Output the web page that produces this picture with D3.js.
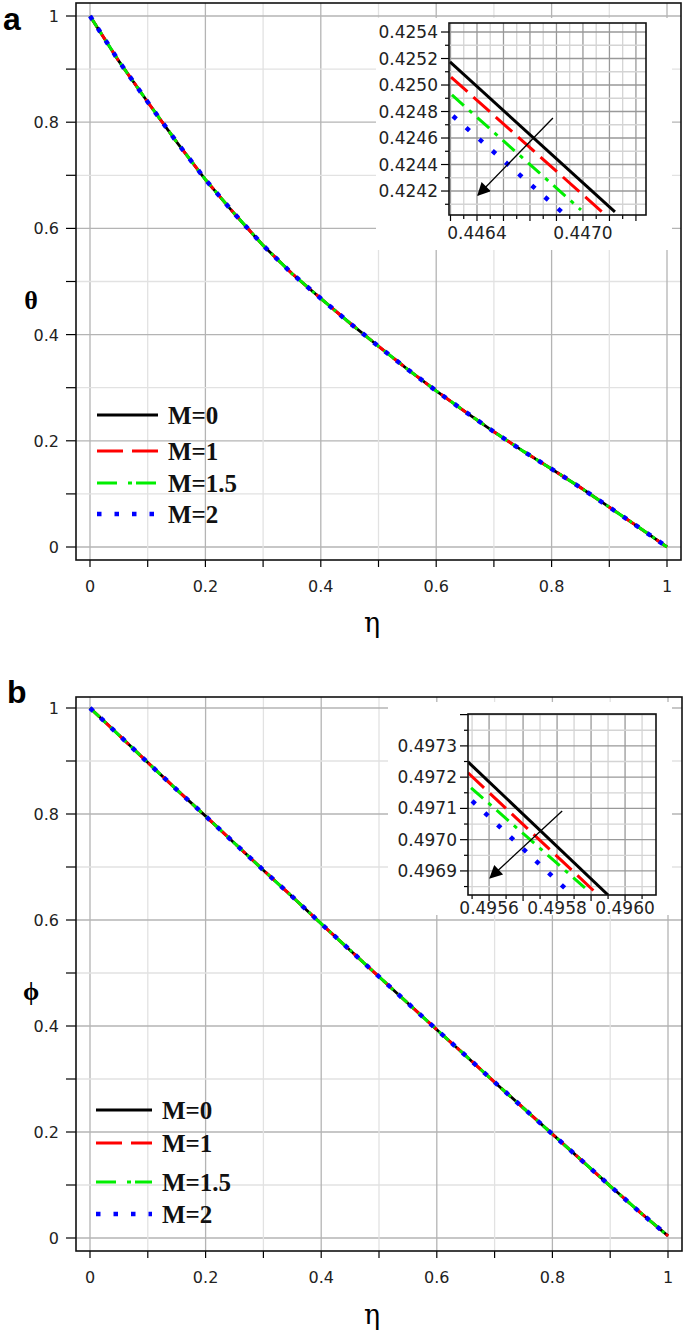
<!DOCTYPE html>
<html><head><meta charset="utf-8">
<script src="https://cdn.jsdelivr.net/npm/d3@7"></script>
<style>body{margin:0;background:#fff}</style>
</head><body>
<svg id="c" width="685" height="1336" xmlns="http://www.w3.org/2000/svg"></svg>
<script>
// ---------------- DATA ----------------
const eta = [0,0.05,0.1,0.15,0.2,0.25,0.3,0.35,0.4,0.45,0.5,0.55,0.6,0.65,0.7,0.75,0.8,0.85,0.9,0.95,1];
const thetaM0  = [1.000,0.915,0.838,0.763,0.692,0.628,0.568,0.515,0.468,0.422,0.378,0.335,0.294,0.255,0.217,0.181,0.147,0.112,0.075,0.038,0.000];
const thetaM1  = [1.000,0.915,0.838,0.763,0.692,0.628,0.568,0.515,0.468,0.422,0.378,0.335,0.294,0.255,0.217,0.181,0.147,0.112,0.075,0.038,0.000];
const thetaM15 = [1.000,0.915,0.838,0.763,0.692,0.628,0.568,0.515,0.468,0.422,0.378,0.335,0.294,0.255,0.217,0.181,0.147,0.112,0.075,0.038,0.000];
const thetaM2  = [1.000,0.915,0.838,0.763,0.692,0.628,0.568,0.515,0.468,0.422,0.378,0.335,0.294,0.255,0.217,0.181,0.147,0.112,0.075,0.038,0.000];
const phiM0  = [1.000,0.949,0.897,0.846,0.796,0.745,0.694,0.644,0.593,0.543,0.493,0.443,0.393,0.344,0.294,0.245,0.196,0.147,0.098,0.050,0.004];
const phiM1  = [1.000,0.949,0.897,0.846,0.796,0.745,0.694,0.644,0.593,0.543,0.493,0.443,0.393,0.344,0.294,0.245,0.196,0.147,0.098,0.050,0.004];
const phiM15 = [1.000,0.949,0.897,0.846,0.796,0.745,0.694,0.644,0.593,0.543,0.493,0.443,0.393,0.344,0.294,0.245,0.196,0.147,0.098,0.050,0.004];
const phiM2  = [1.000,0.949,0.897,0.846,0.796,0.745,0.694,0.644,0.593,0.543,0.493,0.443,0.393,0.344,0.294,0.245,0.196,0.147,0.098,0.050,0.004];

const seriesNames = ["M=0","M=1","M=1.5","M=2"];
const mainTickVals = [0,0.2,0.4,0.6,0.8,1];
const mainTickText = ["0","0.2","0.4","0.6","0.8","1"];

// inset (a): zoomed theta near eta ~ 0.4466  [start, end] per series
const insetAEta = { "M=0":[0.446247,0.447181], "M=1":[0.446253,0.447108], "M=1.5":[0.446258,0.446989], "M=2":[0.446264,0.446887] };
const insetATheta = { "M=0":[0.425174,0.424042], "M=1":[0.425060,0.424042], "M=1.5":[0.424925,0.424057], "M=2":[0.424766,0.424034] };
const insetAXTicks = [0.4464,0.4470];
const insetAXText = ["0.4464","0.4470"];
const insetAYTicks = [0.4254,0.4252,0.4250,0.4248,0.4246,0.4244,0.4242];
const insetAYText = ["0.4254","0.4252","0.4250","0.4248","0.4246","0.4244","0.4242"];
const insetAArrow = [[0.44683,0.424751],[0.446406,0.424170]];

// inset (b): zoomed phi near eta ~ 0.4957
const insetBEta = { "M=0":[0.495538,0.495950], "M=1":[0.495538,0.495921], "M=1.5":[0.495547,0.495882], "M=2":[0.495550,0.495829] };
const insetBPhi = { "M=0":[0.497249,0.496823], "M=1":[0.497214,0.496823], "M=1.5":[0.497166,0.496846], "M=2":[0.497124,0.496839] };
const insetBXTicks = [0.4956,0.4958,0.4960];
const insetBXText = ["0.4956","0.4958","0.4960"];
const insetBYTicks = [0.4973,0.4972,0.4971,0.4970,0.4969];
const insetBYText = ["0.4973","0.4972","0.4971","0.4970","0.4969"];
const insetBArrow = [[0.495815,0.497092],[0.495603,0.496878]];

// ---------------- STYLE ----------------
const styles = {
  "M=0":  {color:"#000000", dash:null, width:2.8},
  "M=1":  {color:"#ff0000", dash:"13,7", width:3},
  "M=1.5":{color:"#00ee00", dash:"13,6,3,6", width:3},
  "M=2":  {color:"#0000ff", dash:"4.5,10", width:4.5}
};
const legendStyles = {
  "M=0":  {dash:null},
  "M=1":  {dash:"26,9"},
  "M=1.5":{dash:"20,11,4,4"},
  "M=2":  {dash:"4.5,13"}
};
const tickFont = "'DejaVu Sans', sans-serif";
const svg = d3.select("#c");
const defs = svg.append("defs");
defs.append("marker").attr("id","ah").attr("viewBox","0 0 10 10").attr("refX",9).attr("refY",5)
  .attr("markerWidth",13).attr("markerHeight",10).attr("markerUnits","strokeWidth").attr("orient","auto")
  .append("path").attr("d","M0,0 L10,5 L0,10 Z").attr("fill","#000");

function panel(o){
  const g = svg.append("g");
  const x = d3.scaleLinear().domain([0,1]).range(o.xr);
  const y = d3.scaleLinear().domain([0,1]).range(o.yr);
  const F = o.frame;
  // grid
  const gridVals = d3.range(0,11).map(i=>i/10);
  gridVals.forEach((v,i)=>{
    const major = i%2===0;
    g.append("line").attr("x1",x(v)).attr("x2",x(v)).attr("y1",F.t).attr("y2",F.b)
      .attr("stroke",major?"#b4b4b4":"#e2e2e2").attr("stroke-width",1.3);
    g.append("line").attr("y1",y(v)).attr("y2",y(v)).attr("x1",F.l).attr("x2",F.r)
      .attr("stroke",major?"#b4b4b4":"#e2e2e2").attr("stroke-width",1.3);
  });
  // ticks outside
  gridVals.forEach(v=>{
    g.append("line").attr("x1",F.l-10).attr("x2",F.l).attr("y1",y(v)).attr("y2",y(v)).attr("stroke","#000").attr("stroke-width",1.2);
    g.append("line").attr("y1",F.b).attr("y2",F.b+7).attr("x1",x(v)).attr("x2",x(v)).attr("stroke","#000").attr("stroke-width",1.2);
  });
  mainTickVals.forEach((v,i)=>{
    g.append("text").attr("x",F.l-17).attr("y",y(v)+6).attr("text-anchor","end")
      .attr("font-family",tickFont).attr("font-size",16).attr("fill","#222").text(mainTickText[i]);
    g.append("text").attr("x",x(v)).attr("y",F.b+32).attr("text-anchor","middle")
      .attr("font-family",tickFont).attr("font-size",16).attr("fill","#222").text(mainTickText[i]);
  });
  // curves
  const line = d3.line().x((d,i)=>x(eta[i])).y(d=>y(d));
  seriesNames.forEach((n,k)=>{
    const s = styles[n];
    g.append("path").attr("d",line(o.series[k])).attr("fill","none").attr("stroke",s.color)
      .attr("stroke-width",s.width).attr("stroke-dasharray",s.dash);
  });
  // frame
  g.append("rect").attr("x",F.l).attr("y",F.t).attr("width",F.r-F.l).attr("height",F.b-F.t)
    .attr("fill","none").attr("stroke","#111").attr("stroke-width",1.6);
  // legend
  seriesNames.forEach((n,k)=>{
    const ly = o.legend.ys[k];
    g.append("line").attr("x1",o.legend.x1).attr("x2",o.legend.x2).attr("y1",ly).attr("y2",ly)
      .attr("stroke",styles[n].color).attr("stroke-width",n==="M=2"?4.5:3.2).attr("stroke-dasharray",legendStyles[n].dash);
    g.append("text").attr("x",o.legend.tx).attr("y",ly+9).attr("font-family","'Liberation Serif', serif")
      .attr("font-weight","bold").attr("font-size",25).attr("fill","#111").text(n);
  });
  // labels
  g.append("text").attr("x",o.ylab[0]).attr("y",o.ylab[1]).attr("font-family","'Liberation Serif', serif")
    .attr("font-weight","bold").attr("font-size",26).attr("text-anchor","middle").text(o.ylab[2]);
  g.append("text").attr("x",o.xlab[0]).attr("y",o.xlab[1]).attr("font-family","'DejaVu Serif', serif")
    .attr("font-size",27).attr("text-anchor","middle").text("η");
  g.append("text").attr("x",o.letter[0]).attr("y",o.letter[1]).attr("font-family","'Liberation Sans', Arial, sans-serif")
    .attr("font-weight","bold").attr("font-size",32).text(o.letter[2]);
  // inset
  const I = o.inset;
  g.append("rect").attr("x",I.bg[0]).attr("y",I.bg[1]).attr("width",I.bg[2]-I.bg[0]).attr("height",I.bg[3]-I.bg[1]).attr("fill","#fff");
  const ix = d3.scaleLinear().domain(I.xd).range([I.l,I.r]);
  const iy = d3.scaleLinear().domain(I.yd).range([I.b,I.t]);
  const clipId = "clip"+o.letter[2];
  defs.append("clipPath").attr("id",clipId).append("rect").attr("x",I.l).attr("y",I.t).attr("width",I.r-I.l).attr("height",I.b-I.t);
  I.xgrid.forEach(gv=>{
    const px = ix(gv.v); if(px<I.l+0.5||px>I.r-0.5) return;
    g.append("line").attr("x1",px).attr("x2",px).attr("y1",I.t).attr("y2",I.b).attr("stroke",gv.major?"#999":"#d4d4d4").attr("stroke-width",1.3);
  });
  I.xgrid.forEach(gv=>{
    const px = ix(gv.v); if(px<I.l||px>I.r) return;
    g.append("line").attr("x1",px).attr("x2",px).attr("y1",I.b).attr("y2",I.b+(gv.major?6:4)).attr("stroke","#000").attr("stroke-width",1.2);
  });
  I.ygrid.forEach(gv=>{
    const py = iy(gv.v); if(py<I.t+0.5||py>I.b-0.5) return;
    g.append("line").attr("y1",py).attr("y2",py).attr("x1",I.l).attr("x2",I.r).attr("stroke",gv.major?"#999":"#d4d4d4").attr("stroke-width",1.3);
    g.append("line").attr("y1",py).attr("y2",py).attr("x1",I.l-(gv.major?8:4)).attr("x2",I.l).attr("stroke","#000").attr("stroke-width",1.2);
  });
  I.xt.forEach((v,i)=>{
    g.append("text").attr("x",ix(v)).attr("y",I.b+I.xlabDy).attr("text-anchor","middle")
      .attr("font-family",tickFont).attr("font-size",17).attr("fill","#222").text(I.xtt[i]);
  });
  I.yt.forEach((v,i)=>{
    g.append("text").attr("x",I.l-11).attr("y",iy(v)+6).attr("text-anchor","end")
      .attr("font-family",tickFont).attr("font-size",17).attr("fill","#222").text(I.ytt[i]);
  });
  const cg = g.append("g").attr("clip-path","url(#"+clipId+")");
  seriesNames.forEach(n=>{
    const s = styles[n];
    const pts = I.ex[n].map((e,i)=>[ix(e),iy(I.ey[n][i])]);
    cg.append("path").attr("d",d3.line()(pts)).attr("fill","none").attr("stroke",s.color)
      .attr("stroke-width",n==="M=2"?4.5:3).attr("stroke-dasharray",n==="M=0"?null:(n==="M=1"?"22,8":(n==="M=1.5"?"16,7,4,7":"4.5,13")));
  });
  g.append("line").attr("x1",ix(I.arrow[0][0])).attr("y1",iy(I.arrow[0][1])).attr("x2",ix(I.arrow[1][0])).attr("y2",iy(I.arrow[1][1]))
    .attr("stroke","#000").attr("stroke-width",1.3).attr("marker-end","url(#ah)");
  g.append("rect").attr("x",I.l).attr("y",I.t).attr("width",I.r-I.l).attr("height",I.b-I.t)
    .attr("fill","none").attr("stroke","#111").attr("stroke-width",1.6);
}

function gridSteps(start, step, n, majorEvery){
  return d3.range(0,n).map(i=>({v:start+i*step, major: i%majorEvery===0}));
}

panel({
  frame:{l:76,t:3,r:681,b:560}, xr:[90,667], yr:[547,16],
  series:[thetaM0,thetaM1,thetaM15,thetaM2],
  legend:{x1:97,x2:158,tx:168,ys:[415,451,483,514]},
  ylab:[31,309,"θ"], xlab:[372,632], letter:[3,30,"a"],
  inset:{ l:449,r:646,t:23,b:215, bg:[376,18,672,250],
    xd:[0.4462415,0.447357], yd:[0.424019,0.425468],
    xgrid: gridSteps(0.44625,0.000075,16,2),
    ygrid: gridSteps(0.4240,0.0001,16,2),
    xt:insetAXTicks, xtt:insetAXText, yt:insetAYTicks, ytt:insetAYText, xlabDy:24,
    ex:insetAEta, ey:insetATheta, arrow:insetAArrow }
});

panel({
  frame:{l:76,t:697,r:682,b:1251}, xr:[90,668], yr:[1238,708],
  series:[phiM0,phiM1,phiM15,phiM2],
  legend:{x1:96,x2:152,tx:162,ys:[1110,1143,1182,1214]},
  ylab:[31,1000,"ϕ"], xlab:[372,1324], letter:[7,703,"b"],
  inset:{ l:468,r:656,t:714,b:895, bg:[388,702,672,915],
    xd:[0.495538,0.496091], yd:[0.496823,0.497402],
    xgrid: gridSteps(0.4955,0.00005,14,2),
    ygrid: gridSteps(0.4968,0.00005,14,2),
    xt:insetBXTicks, xtt:insetBXText, yt:insetBYTicks, ytt:insetBYText, xlabDy:19,
    ex:insetBEta, ey:insetBPhi, arrow:insetBArrow }
});
</script>
</body></html>
